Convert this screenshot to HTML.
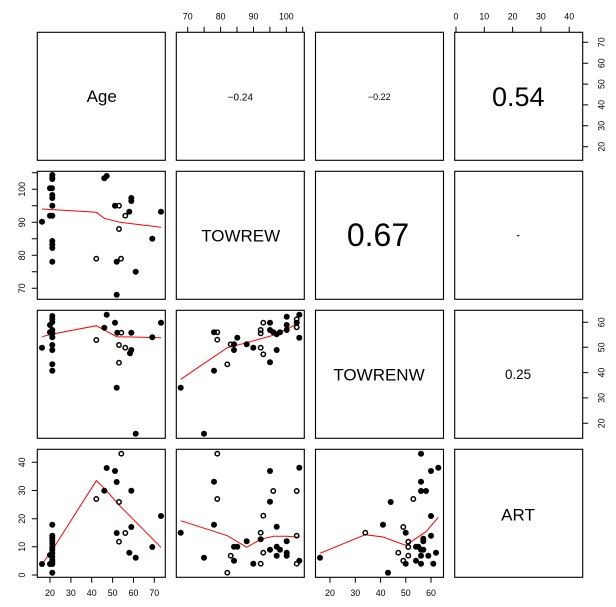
<!DOCTYPE html>
<html><head><meta charset="utf-8"><style>
html,body{margin:0;padding:0;background:#fff;}
svg{display:block;font-family:"Liberation Sans",Arial,sans-serif;}
</style></head><body>
<svg width="616" height="607" viewBox="0 0 616 607" xmlns="http://www.w3.org/2000/svg">
<rect width="616" height="607" fill="#fff"/>
<g fill="none" stroke="#000" stroke-width="1.1">
<rect x="37.3" y="32.3" width="128" height="128"/>
<rect x="176.3" y="32.3" width="128" height="128"/>
<rect x="315.5" y="32.3" width="128" height="128"/>
<rect x="454.7" y="32.3" width="128" height="128"/>
<rect x="37.3" y="171.3" width="128" height="128"/>
<rect x="176.3" y="171.3" width="128" height="128"/>
<rect x="315.5" y="171.3" width="128" height="128"/>
<rect x="454.7" y="171.3" width="128" height="128"/>
<rect x="37.3" y="310.3" width="128" height="128"/>
<rect x="176.3" y="310.3" width="128" height="128"/>
<rect x="315.5" y="310.3" width="128" height="128"/>
<rect x="454.7" y="310.3" width="128" height="128"/>
<rect x="37.3" y="449.3" width="128" height="128"/>
<rect x="176.3" y="449.3" width="128" height="128"/>
<rect x="315.5" y="449.3" width="128" height="128"/>
<rect x="454.7" y="449.3" width="128" height="128"/>
</g>
<g stroke="#000" stroke-width="1">
<path d="M187.7 32.3V26.8M204.1 32.3V26.8M220.6 32.3V26.8M237 32.3V26.8M253.5 32.3V26.8M269.9 32.3V26.8M286.3 32.3V26.8M302.7 32.3V26.8"/>
<path d="M456 32.3V26.8M484.3 32.3V26.8M512.6 32.3V26.8M540.9 32.3V26.8M569.2 32.3V26.8"/>
<path d="M582.7 146.7H588.2M582.7 125.8H588.2M582.7 104.9H588.2M582.7 84.1H588.2M582.7 63.2H588.2M582.7 42.3H588.2"/>
<path d="M582.7 423.3H588.2M582.7 397.9H588.2M582.7 372.6H588.2M582.7 347.3H588.2M582.7 322.3H588.2"/>
<path d="M37.3 288.3H31.8M37.3 271.8H31.8M37.3 255.3H31.8M37.3 238.8H31.8M37.3 222.3H31.8M37.3 205.8H31.8M37.3 189.3H31.8M37.3 172.8H31.8"/>
<path d="M37.3 575H31.8M37.3 546.8H31.8M37.3 518.7H31.8M37.3 490.5H31.8M37.3 462.3H31.8"/>
<path d="M50 577.3V582.8M70.9 577.3V582.8M91.7 577.3V582.8M112.6 577.3V582.8M133.5 577.3V582.8M154.3 577.3V582.8"/>
<path d="M330 577.3V582.8M355.3 577.3V582.8M380.6 577.3V582.8M405.8 577.3V582.8M431 577.3V582.8"/>
</g>
<g font-size="8.8" fill="#000" text-anchor="middle">
<text x="187.7" y="19.4">70</text><text x="220.6" y="19.4">80</text><text x="253.5" y="19.4">90</text><text x="286.3" y="19.4">100</text>
<text x="456" y="19.4">0</text><text x="484.3" y="19.4">10</text><text x="512.6" y="19.4">20</text><text x="540.9" y="19.4">30</text><text x="569.2" y="19.4">40</text>
<text x="50" y="596.2">20</text><text x="70.9" y="596.2">30</text><text x="91.7" y="596.2">40</text><text x="112.6" y="596.2">50</text><text x="133.5" y="596.2">60</text><text x="154.3" y="596.2">70</text>
<text x="330" y="596.2">20</text><text x="355.3" y="596.2">30</text><text x="380.6" y="596.2">40</text><text x="405.8" y="596.2">50</text><text x="431" y="596.2">60</text>
<text transform="translate(24.9,288.3) rotate(-90)">70</text>
<text transform="translate(24.9,255.3) rotate(-90)">80</text>
<text transform="translate(24.9,222.3) rotate(-90)">90</text>
<text transform="translate(24.9,189.3) rotate(-90)">100</text>
<text transform="translate(24.9,575) rotate(-90)">0</text>
<text transform="translate(24.9,546.8) rotate(-90)">10</text>
<text transform="translate(24.9,518.7) rotate(-90)">20</text>
<text transform="translate(24.9,490.5) rotate(-90)">30</text>
<text transform="translate(24.9,462.3) rotate(-90)">40</text>
<text transform="translate(604.4,146.7) rotate(-90)">20</text>
<text transform="translate(604.4,125.8) rotate(-90)">30</text>
<text transform="translate(604.4,104.9) rotate(-90)">40</text>
<text transform="translate(604.4,84.1) rotate(-90)">50</text>
<text transform="translate(604.4,63.2) rotate(-90)">60</text>
<text transform="translate(604.4,42.3) rotate(-90)">70</text>
<text transform="translate(604.4,423.3) rotate(-90)">20</text>
<text transform="translate(604.4,397.9) rotate(-90)">30</text>
<text transform="translate(604.4,372.6) rotate(-90)">40</text>
<text transform="translate(604.4,347.3) rotate(-90)">50</text>
<text transform="translate(604.4,322.3) rotate(-90)">60</text>
</g>
<g fill="#000" text-anchor="middle">
<text x="101.7" y="101.8" font-size="17">Age</text>
<text x="240.7" y="241.4" font-size="17">TOWREW</text>
<text x="379" y="380.4" font-size="17">TOWRENW</text>
<text x="518" y="520.4" font-size="17">ART</text>
<text x="240.3" y="100.5" font-size="10">−0.24</text>
<text x="379.3" y="100.2" font-size="9">−0.22</text>
<text x="518.3" y="106.2" font-size="27">0.54</text>
<text x="378" y="246" font-size="32">0.67</text>
<text x="518" y="379" font-size="13.4">0.25</text>
</g>
<rect x="516.8" y="235.2" width="2.6" height="1" fill="#000"/>
<g fill="none" stroke="#ff0000" stroke-width="1">
<polyline points="42,209 96.3,212.3 104.3,218.3 120,222.3 161,227.3"/>
<polyline points="42,336.7 51.7,334.3 96.3,325.7 116.7,336.7 161,337.7"/>
<polyline points="42,564 52.3,550 96.3,480.7 104.3,488.3 119,505 161,547.3"/>
<polyline points="180.7,379.3 227.3,347.7 246.7,342.7 276.7,334.3 299.3,322.7"/>
<polyline points="180.7,520.7 227.3,535.7 246.7,547.3 260.7,539.3 273.3,536.3 286.7,536.3 299.3,537.3"/>
<polyline points="320,553.3 365.3,534.7 383,537 405.7,545.3 426,531.7 438.3,517.3"/>
</g>
<g fill="#000">
<circle cx="52.3" cy="175" r="3"/><circle cx="52.3" cy="177.5" r="3"/><circle cx="52.3" cy="179" r="3"/><circle cx="52" cy="188.3" r="3"/><circle cx="50" cy="188.3" r="3"/><circle cx="52.3" cy="195" r="3"/><circle cx="52.3" cy="198" r="3"/><circle cx="52.3" cy="205.7" r="3"/><circle cx="50" cy="215.7" r="3"/><circle cx="52.3" cy="215.7" r="3"/><circle cx="42" cy="221.7" r="3"/><circle cx="52.3" cy="241" r="3"/><circle cx="52.3" cy="244.5" r="3"/><circle cx="52.3" cy="248" r="3"/><circle cx="52.3" cy="261.7" r="3"/><circle cx="104.3" cy="178.3" r="3"/><circle cx="106.7" cy="176" r="3"/><circle cx="115" cy="205.7" r="3"/><circle cx="131.3" cy="198" r="3"/><circle cx="131.3" cy="201" r="3"/><circle cx="129.3" cy="211.7" r="3"/><circle cx="161" cy="211.7" r="3"/><circle cx="152.3" cy="238.7" r="3"/><circle cx="116.7" cy="261.7" r="3"/><circle cx="135.7" cy="271.7" r="3"/><circle cx="116.7" cy="294.7" r="3"/>
<circle cx="52.3" cy="316" r="3"/><circle cx="52.3" cy="319" r="3"/><circle cx="52.3" cy="322" r="3"/><circle cx="50" cy="325" r="3"/><circle cx="52.3" cy="330" r="3"/><circle cx="50" cy="332.3" r="3"/><circle cx="52.3" cy="333.3" r="3"/><circle cx="52.3" cy="337.3" r="3"/><circle cx="42" cy="347.7" r="3"/><circle cx="52.3" cy="345" r="3"/><circle cx="52.3" cy="350" r="3"/><circle cx="52.3" cy="364.3" r="3"/><circle cx="52.3" cy="370.7" r="3"/><circle cx="106.7" cy="314.7" r="3"/><circle cx="104.3" cy="327.7" r="3"/><circle cx="115" cy="322.7" r="3"/><circle cx="117.3" cy="332.7" r="3"/><circle cx="131.3" cy="332.7" r="3"/><circle cx="131.3" cy="350" r="3"/><circle cx="130" cy="353.3" r="3"/><circle cx="161" cy="322.7" r="3"/><circle cx="152.3" cy="337.3" r="3"/><circle cx="116.7" cy="387.7" r="3"/><circle cx="135.7" cy="433.7" r="3"/>
<circle cx="42" cy="564" r="3"/><circle cx="50" cy="564" r="3"/><circle cx="52.3" cy="564" r="3"/><circle cx="52.3" cy="561.7" r="3"/><circle cx="52.3" cy="524.7" r="3"/><circle cx="52.3" cy="535.7" r="3"/><circle cx="52.3" cy="538.3" r="3"/><circle cx="52.3" cy="541" r="3"/><circle cx="52.3" cy="544" r="3"/><circle cx="52.3" cy="547.3" r="3"/><circle cx="52.3" cy="550" r="3"/><circle cx="52.3" cy="553.3" r="3"/><circle cx="52.3" cy="556.7" r="3"/><circle cx="52.3" cy="560" r="3"/><circle cx="50" cy="555" r="3"/><circle cx="52.3" cy="572.7" r="3"/><circle cx="104.3" cy="490.7" r="3"/><circle cx="106.7" cy="468" r="3"/><circle cx="115" cy="471" r="3"/><circle cx="116.7" cy="482" r="3"/><circle cx="131.3" cy="490.7" r="3"/><circle cx="131.3" cy="527" r="3"/><circle cx="116.7" cy="533" r="3"/><circle cx="129.3" cy="552.7" r="3"/><circle cx="135.7" cy="557.7" r="3"/><circle cx="152.3" cy="547" r="3"/><circle cx="161" cy="516" r="3"/>
<circle cx="180.7" cy="387.7" r="3"/><circle cx="204" cy="433.7" r="3"/><circle cx="214" cy="332.3" r="3"/><circle cx="214" cy="370.7" r="3"/><circle cx="234" cy="344.3" r="3"/><circle cx="234" cy="350" r="3"/><circle cx="237.3" cy="337.7" r="3"/><circle cx="246.7" cy="344.3" r="3"/><circle cx="253.3" cy="347.7" r="3"/><circle cx="270" cy="322.7" r="3"/><circle cx="270" cy="330" r="3"/><circle cx="273.3" cy="332.3" r="3"/><circle cx="276.7" cy="334.3" r="3"/><circle cx="280" cy="332.3" r="3"/><circle cx="270" cy="362.3" r="3"/><circle cx="276.7" cy="350" r="3"/><circle cx="286.7" cy="316.7" r="3"/><circle cx="286.7" cy="325" r="3"/><circle cx="286.7" cy="330" r="3"/><circle cx="296.7" cy="322.7" r="3"/><circle cx="299.3" cy="314.7" r="3"/><circle cx="299.3" cy="337.7" r="3"/>
<circle cx="214" cy="481.7" r="3"/><circle cx="214" cy="524.7" r="3"/><circle cx="180.7" cy="532.7" r="3"/><circle cx="204" cy="557.7" r="3"/><circle cx="234" cy="560.7" r="3"/><circle cx="234" cy="546.7" r="3"/><circle cx="237.3" cy="546.7" r="3"/><circle cx="246.7" cy="541.3" r="3"/><circle cx="253.3" cy="563.7" r="3"/><circle cx="260.7" cy="539.3" r="3"/><circle cx="270" cy="471" r="3"/><circle cx="270" cy="501.7" r="3"/><circle cx="270" cy="549.7" r="3"/><circle cx="276.7" cy="526.7" r="3"/><circle cx="276.7" cy="546.7" r="3"/><circle cx="280" cy="549.7" r="3"/><circle cx="276.7" cy="555.7" r="3"/><circle cx="286.7" cy="541.3" r="3"/><circle cx="286.7" cy="552.7" r="3"/><circle cx="286.7" cy="555.7" r="3"/><circle cx="299.3" cy="560.7" r="3"/><circle cx="299.3" cy="467.7" r="3"/>
<circle cx="320" cy="557.7" r="3"/><circle cx="383" cy="524.7" r="3"/><circle cx="388" cy="572.7" r="3"/><circle cx="390.7" cy="502" r="3"/><circle cx="405.7" cy="532.7" r="3"/><circle cx="405.7" cy="563.7" r="3"/><circle cx="416" cy="546.7" r="3"/><circle cx="418.3" cy="546.7" r="3"/><circle cx="421" cy="549.7" r="3"/><circle cx="423.3" cy="549.7" r="3"/><circle cx="416" cy="560.7" r="3"/><circle cx="421" cy="555.7" r="3"/><circle cx="421" cy="563.7" r="3"/><circle cx="421" cy="453.7" r="3"/><circle cx="421" cy="481.7" r="3"/><circle cx="421" cy="491" r="3"/><circle cx="426" cy="491" r="3"/><circle cx="423.3" cy="538.7" r="3"/><circle cx="423.3" cy="541.3" r="3"/><circle cx="428.3" cy="555.7" r="3"/><circle cx="431" cy="471" r="3"/><circle cx="431" cy="516" r="3"/><circle cx="431" cy="535.7" r="3"/><circle cx="433.3" cy="563.7" r="3"/><circle cx="436" cy="552.7" r="3"/><circle cx="438.3" cy="467.7" r="3"/>
</g>
<g fill="none" stroke="#000" stroke-width="1.5">
<circle cx="96.3" cy="258.7" r="2.2"/><circle cx="119" cy="205.7" r="2.2"/><circle cx="125.3" cy="215.7" r="2.2"/><circle cx="119" cy="229" r="2.2"/><circle cx="121" cy="258.7" r="2.2"/>
<circle cx="96.3" cy="340" r="2.2"/><circle cx="121.3" cy="332.7" r="2.2"/><circle cx="119" cy="345" r="2.2"/><circle cx="125.3" cy="347.7" r="2.2"/><circle cx="119" cy="362.7" r="2.2"/>
<circle cx="96.3" cy="499" r="2.2"/><circle cx="119" cy="502" r="2.2"/><circle cx="121.3" cy="453.7" r="2.2"/><circle cx="125.3" cy="533" r="2.2"/><circle cx="119" cy="541.7" r="2.2"/>
<circle cx="217.3" cy="332.3" r="2.2"/><circle cx="217.3" cy="339.7" r="2.2"/><circle cx="227.3" cy="364.3" r="2.2"/><circle cx="230.7" cy="344.3" r="2.2"/><circle cx="260.7" cy="347.7" r="2.2"/><circle cx="263.3" cy="354.3" r="2.2"/><circle cx="260.7" cy="330" r="2.2"/><circle cx="260.7" cy="333.3" r="2.2"/><circle cx="263.3" cy="322.7" r="2.2"/><circle cx="296.7" cy="319.3" r="2.2"/><circle cx="296.7" cy="327.3" r="2.2"/>
<circle cx="217.3" cy="453.7" r="2.2"/><circle cx="217.3" cy="499" r="2.2"/><circle cx="227.3" cy="572.7" r="2.2"/><circle cx="230.7" cy="555.7" r="2.2"/><circle cx="260.7" cy="563.7" r="2.2"/><circle cx="260.7" cy="532.7" r="2.2"/><circle cx="263.3" cy="515.7" r="2.2"/><circle cx="263.3" cy="552.7" r="2.2"/><circle cx="273.3" cy="491" r="2.2"/><circle cx="296.7" cy="491" r="2.2"/><circle cx="296.7" cy="535.7" r="2.2"/><circle cx="296.7" cy="563.7" r="2.2"/>
<circle cx="365.3" cy="532.7" r="2.2"/><circle cx="398.3" cy="552.7" r="2.2"/><circle cx="403.3" cy="527" r="2.2"/><circle cx="403.3" cy="560.7" r="2.2"/><circle cx="408.3" cy="541.7" r="2.2"/><circle cx="408.3" cy="547" r="2.2"/><circle cx="408.3" cy="555.7" r="2.2"/><circle cx="413.3" cy="499" r="2.2"/>
</g>
</svg>
</body></html>
